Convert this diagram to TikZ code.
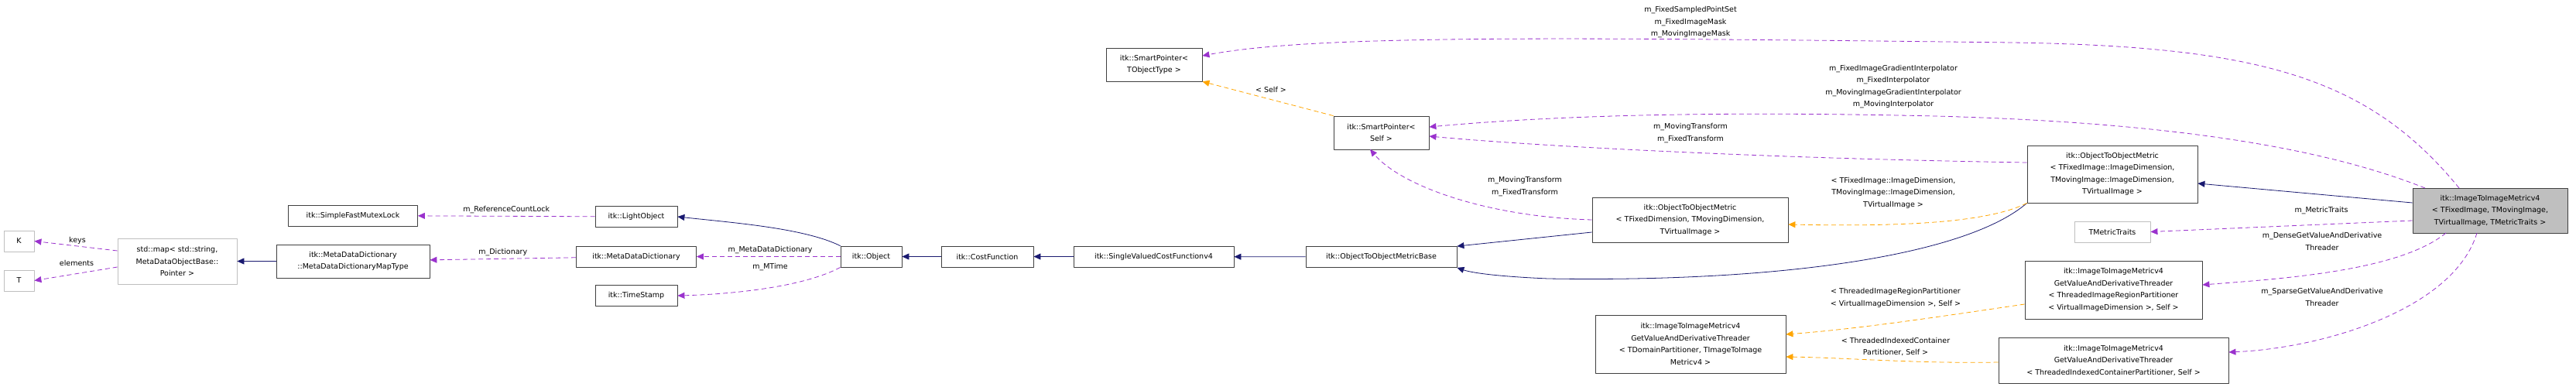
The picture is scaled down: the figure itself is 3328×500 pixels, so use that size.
\documentclass[tikz,border=0pt]{standalone}
\usepackage{fontspec}
\setmainfont{DejaVu Sans}
\usetikzlibrary{arrows.meta}
\definecolor{inhblue}{HTML}{191970}
\definecolor{usepurple}{HTML}{9A32CD}
\definecolor{tplorange}{HTML}{FFA500}
\definecolor{boxgray}{HTML}{BFBFBF}
\begin{document}
\begin{tikzpicture}[x=1pt,y=-1pt,line join=round,
    font=\fontsize{9.5}{15.5}\selectfont,
    tip/.style={-{Triangle[length=9pt,width=8pt]}},
    cls/.style={draw=black!75,thick,inner sep=2pt,align=center,minimum width=#1},
    ext/.style={draw=boxgray,thick,inner sep=2pt,align=center,minimum width=#1},
    inh/.style={tip,draw=inhblue,thick},
    use/.style={tip,draw=usepurple,thick,dash pattern=on 6pt off 4pt},
    tpl/.style={tip,draw=tplorange,thick,dash pattern=on 6pt off 4pt},
    lbl/.style={align=center,inner sep=0pt}]
\useasboundingbox (0,0) rectangle (3328,500);
% classes
\node[ext=39pt,minimum height=27pt] (k) at (24.5,311.5) {K};
\node[ext=39pt,minimum height=27pt] (t) at (24.5,362.5) {T};
\node[ext=154pt,minimum height=59pt] (map) at (229,337.5) {std::map< std::string,\\MetaDataObjectBase::\\Pointer >};
\node[cls=198pt,minimum height=43pt] (maptype) at (456,337.5) {itk::MetaDataDictionary\\::MetaDataDictionaryMapType};
\node[cls=167pt,minimum height=27pt] (mutex) at (456,278.5) {itk::SimpleFastMutexLock};
\node[cls=106pt,minimum height=27pt] (light) at (822,280) {itk::LightObject};
\node[cls=155pt,minimum height=27pt] (mdd) at (822,331.5) {itk::MetaDataDictionary};
\node[cls=106pt,minimum height=27pt] (stamp) at (822,382) {itk::TimeStamp};
\node[cls=79pt,minimum height=27pt] (obj) at (1125.5,331.5) {itk::Object};
\node[cls=119pt,minimum height=27pt] (cost) at (1275.5,331.5) {itk::CostFunction};
\node[cls=207pt,minimum height=27pt] (svcf) at (1490.5,331.5) {itk::SingleValuedCostFunctionv4};
\node[cls=195pt,minimum height=27pt] (base) at (1784.5,332) {itk::ObjectToObjectMetricBase};
\node[cls=124pt,minimum height=43pt] (spt) at (1491,83.5) {itk::SmartPointer<\\TObjectType >};
\node[cls=123pt,minimum height=43pt] (sps) at (1784.5,171.5) {itk::SmartPointer<\\Self >};
\node[cls=253pt,minimum height=58pt] (oomd) at (2183.5,284) {itk::ObjectToObjectMetric\\< TFixedDimension, TMovingDimension,\\TVirtualImage >};
\node[cls=220pt,minimum height=74pt] (oomi) at (2729,225) {itk::ObjectToObjectMetric\\< TFixedImage::ImageDimension,\\TMovingImage::ImageDimension,\\TVirtualImage >};
\node[cls=200pt,minimum height=58pt,fill=boxgray] (i2i) at (3217,272) {itk::ImageToImageMetricv4\\< TFixedImage, TMovingImage,\\TVirtualImage, TMetricTraits >};
\node[ext=98pt,minimum height=27pt] (traits) at (2729,299.5) {TMetricTraits};
\node[cls=229pt,minimum height=75pt] (dense) at (2730.5,374.5) {itk::ImageToImageMetricv4\\GetValueAndDerivativeThreader\\< ThreadedImageRegionPartitioner\\< VirtualImageDimension >, Self >};
\node[cls=297pt,minimum height=59pt] (sparse) at (2730.5,465.5) {itk::ImageToImageMetricv4\\GetValueAndDerivativeThreader\\< ThreadedIndexedContainerPartitioner, Self >};
\node[cls=246pt,minimum height=75pt] (generic) at (2184,444.5) {itk::ImageToImageMetricv4\\GetValueAndDerivativeThreader\\< TDomainPartitioner, TImageToImage\\Metricv4 >};
% left part
\draw[use] (map.west |- 0,324) -- (k.east);
\draw[use] (map.west |- 0,345) -- (t.east);
\node[lbl] at (100,311) {keys};
\node[lbl] at (99,340) {elements};
\draw[inh] (maptype) -- (map);
\draw[use] (light) -- (mutex) node[lbl,pos=0.5,above=3pt] {m\_ReferenceCountLock};
\draw[use] (mdd) -- (maptype) node[lbl,pos=0.5,above=3pt] {m\_Dictionary};
\draw[inh] (obj.north west) .. controls (1040,295) and (950,288) .. (light.east);
\draw[use] (obj) -- (mdd);
\node[lbl] at (995,323) {m\_MetaDataDictionary};
\draw[use] (obj.south west) .. controls (1040,370) and (950,380) .. (stamp.east);
\node[lbl] at (995,345) {m\_MTime};
\draw[inh] (cost) -- (obj);
\draw[inh] (svcf) -- (cost);
\draw[inh] (base) -- (svcf);
% metric hierarchy
\draw[inh] (oomd.west |- 0,300) -- (base.north east);
\draw[inh] (oomi.south west) .. controls (2540,330) and (2300,365) .. (2000,360) .. controls (1930,357) and (1900,352) .. (base.south east);
\draw[inh] (i2i.west |- 0,262) -- (oomi.east |- 0,237);
\draw[tpl] (oomi.south west) .. controls (2560,292) and (2420,292) .. (oomd.east |- 0,290);
\node[lbl] at (2446,249) {< TFixedImage::ImageDimension,\\TMovingImage::ImageDimension,\\TVirtualImage >};
% smart pointers
\draw[tpl] (sps.north west) -- (spt.south east);
\node[lbl] at (1642,116) {< Self >};
\coordinate (i2itop) at (3177,243);
\draw[use] (i2itop) .. controls (3060,100) and (2920,60) .. (2600,55) .. controls (2000,48) and (1700,45) .. (spt.east |- 0,72);
\node[lbl] at (2184,29) {m\_FixedSampledPointSet\\m\_FixedImageMask\\m\_MovingImageMask};
\coordinate (i2itop2) at (3133,243);
\draw[use] (i2itop2) .. controls (3000,190) and (2800,158) .. (2500,150) .. controls (2200,143) and (2000,150) .. (sps.east |- 0,164);
\node[lbl] at (2446,112) {m\_FixedImageGradientInterpolator\\m\_FixedInterpolator\\m\_MovingImageGradientInterpolator\\m\_MovingInterpolator};
\draw[use] (oomi.west |- 0,210) .. controls (2300,205) and (2000,190) .. (sps.east |- 0,176);
\node[lbl] at (2184,172) {m\_MovingTransform\\m\_FixedTransform};
\draw[use] (oomd.west) .. controls (1920,280) and (1810,240) .. (1770,193);
\node[lbl] at (1970,241) {m\_MovingTransform\\m\_FixedTransform};
% traits and threaders
\draw[use] (i2i.west |- 0,285) -- (traits.east);
\node[lbl] at (2999,272) {m\_MetricTraits};
\draw[use] (3160,301) .. controls (3100,350) and (2950,360) .. (dense.east |- 0,368);
\node[lbl] at (3000,312) {m\_DenseGetValueAndDerivative\\Threader};
\draw[use] (3200,301) .. controls (3170,400) and (3000,450) .. (sparse.east |- 0,455);
\node[lbl] at (3000,384) {m\_SparseGetValueAndDerivative\\Threader};
\draw[tpl] (dense.west |- 0,393) .. controls (2500,410) and (2400,425) .. (generic.east |- 0,432);
\node[lbl] at (2449,385) {< ThreadedImageRegionPartitioner\\< VirtualImageDimension >, Self >};
\draw[tpl] (sparse.west |- 0,468) .. controls (2480,470) and (2380,462) .. (generic.east |- 0,461);
\node[lbl] at (2449,448) {< ThreadedIndexedContainer\\Partitioner, Self >};
\end{tikzpicture}
\end{document}
